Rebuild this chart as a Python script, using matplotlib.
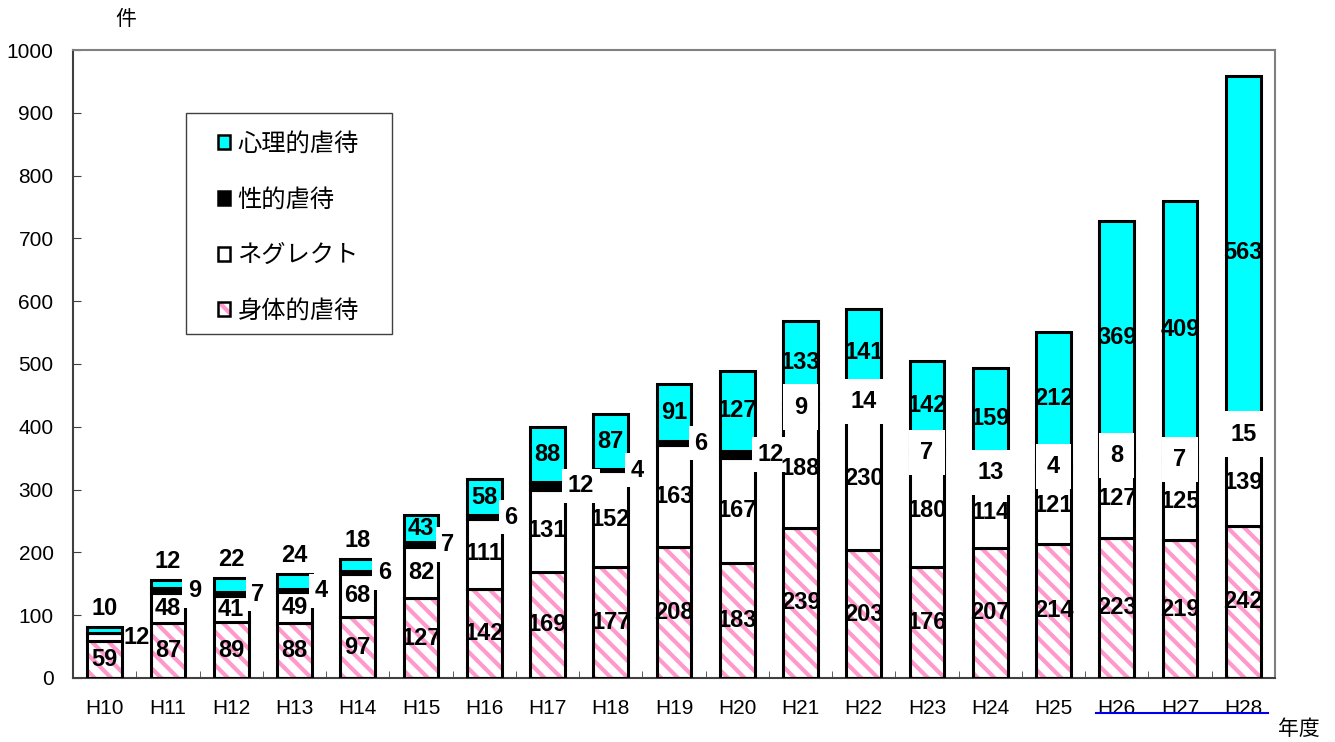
import matplotlib.pyplot as plt
from matplotlib.patches import Patch, Rectangle
from matplotlib.lines import Line2D
import numpy as np

plt.rcParams['font.family'] = ['Liberation Sans', 'Noto Sans CJK JP', 'DejaVu Sans']
plt.rcParams['hatch.linewidth'] = 3.0

years = ['H10', 'H11', 'H12', 'H13', 'H14', 'H15', 'H16', 'H17', 'H18', 'H19',
         'H20', 'H21', 'H22', 'H23', 'H24', 'H25', 'H26', 'H27', 'H28']
physical = [59, 87, 89, 88, 97, 127, 142, 169, 177, 208, 183, 239, 203, 176, 207, 214, 223, 219, 242]
neglect = [12, 48, 41, 49, 68, 82, 111, 131, 152, 163, 167, 188, 230, 180, 114, 121, 127, 125, 139]
sexual = [0, 9, 7, 4, 6, 7, 6, 12, 4, 6, 12, 9, 14, 7, 13, 4, 8, 7, 15]
psych = [10, 12, 22, 24, 18, 43, 58, 88, 87, 91, 127, 133, 141, 142, 159, 212, 369, 409, 563]

PINK = '#FF99CC'
CYAN = '#00FFFF'
W = 0.55
LW = 2.2

fig = plt.figure(figsize=(13.35, 7.42), dpi=100)
ax = fig.add_axes([0.0547, 0.0863, 0.9003, 0.8463])

x = np.arange(len(years))
physical = np.array(physical)
neglect = np.array(neglect)
sexual = np.array(sexual)
psych = np.array(psych)

b1 = np.zeros(len(x))
b2 = b1 + physical
b3 = b2 + neglect
b4 = b3 + sexual

# physical: pink hatch on white, then a black outline on top
ax.bar(x, physical, W, bottom=b1, color='white', edgecolor=PINK, hatch='\\\\', linewidth=0, zorder=2)
ax.bar(x, physical, W, bottom=b1, color='none', edgecolor='black', linewidth=LW, zorder=3)
ax.bar(x, neglect, W, bottom=b2, color='white', edgecolor='black', linewidth=LW, zorder=3)
ax.bar(x, sexual, W, bottom=b3, color='black', edgecolor='black', linewidth=LW, zorder=3)
ax.bar(x, psych, W, bottom=b4, color=CYAN, edgecolor='black', linewidth=LW, zorder=3)

lab = dict(fontsize=17, fontweight='bold', zorder=6)
box = dict(facecolor='white', edgecolor='none', pad=4)

for i in range(len(x)):
    ax.text(x[i], physical[i] / 2, str(physical[i]), ha='center', va='center', **lab)

    if neglect[i] < 20:
        ax.text(x[i] + 0.3, b2[i] + neglect[i] / 2, str(neglect[i]), ha='left', va='center', **lab)
    else:
        ax.text(x[i], b2[i] + neglect[i] / 2, str(neglect[i]), ha='center', va='center', **lab)

    if sexual[i] > 0:
        ys = b3[i] + sexual[i] / 2
        if i < 11:
            ax.text(x[i] + 0.32, ys, str(sexual[i]), ha='left', va='center', bbox=box, **lab)
        else:
            ax.text(x[i], ys, str(sexual[i]), ha='center', va='center',
                    bbox=dict(facecolor='white', edgecolor='none', pad=8), **lab)

    if psych[i] < 30:
        ax.annotate(str(psych[i]), (x[i], b4[i] + psych[i]), xytext=(0, 5),
                    textcoords='offset points', ha='center', va='bottom', **lab)
    else:
        ax.text(x[i], b4[i] + psych[i] / 2, str(psych[i]), ha='center', va='center', **lab)

ax.set_xlim(-0.5, len(x) - 0.5)
ax.set_ylim(0, 1000)
ax.set_yticks(np.arange(0, 1001, 100))
ax.set_xticks(x)
ax.set_xticklabels(years)
ax.set_xticks(np.arange(-0.5, len(x), 1), minor=True)
ax.tick_params(axis='x', which='major', length=0, labelsize=15, pad=15)
ax.tick_params(axis='x', which='minor', direction='in', length=5, color='#404040')
ax.tick_params(axis='y', direction='in', length=6, labelsize=15, pad=14, color='#404040')

for s in ['top', 'right']:
    ax.spines[s].set_color('#808080')
    ax.spines[s].set_linewidth(1.5)
for s in ['left', 'bottom']:
    ax.spines[s].set_color('#404040')
    ax.spines[s].set_linewidth(1.5)

# legend box drawn separately so it can be wider than the entries
ax.add_patch(Rectangle((0.094, 0.5478), 0.1714, 0.3519, transform=ax.transAxes,
                       facecolor='white', edgecolor='#404040', linewidth=1.0, zorder=9))

phys_handle = (Patch(facecolor='white', edgecolor=PINK, hatch='\\\\', linewidth=0),
               Patch(facecolor='none', edgecolor='black', linewidth=1.8))
handles = [
    Patch(facecolor=CYAN, edgecolor='black', linewidth=1.8),
    Patch(facecolor='black', edgecolor='black', linewidth=1.8),
    Patch(facecolor='white', edgecolor='black', linewidth=1.8),
    phys_handle,
]
names = ['心理的虐待', '性的虐待', 'ネグレクト', '身体的虐待']
leg = ax.legend(handles, names, loc='upper left', bbox_to_anchor=(0.1206, 0.871),
                prop={'family': 'Noto Sans CJK JP', 'size': 17.5}, frameon=False,
                handlelength=0.5, handleheight=0.5, handletextpad=0.3, labelspacing=1.22,
                borderpad=0, borderaxespad=0)
leg.set_zorder(10)

fig.text(0.094, 0.975, '件', fontsize=15, family='Noto Sans CJK JP', ha='center', va='center')
fig.text(0.973, 0.018, '年度', fontsize=15, family='Noto Sans CJK JP', ha='center', va='center')
fig.add_artist(Line2D([0.821, 0.950], [0.039, 0.039], transform=fig.transFigure,
                      color='#0000EE', linewidth=1.5))

fig.savefig('out.png', dpi=100)
